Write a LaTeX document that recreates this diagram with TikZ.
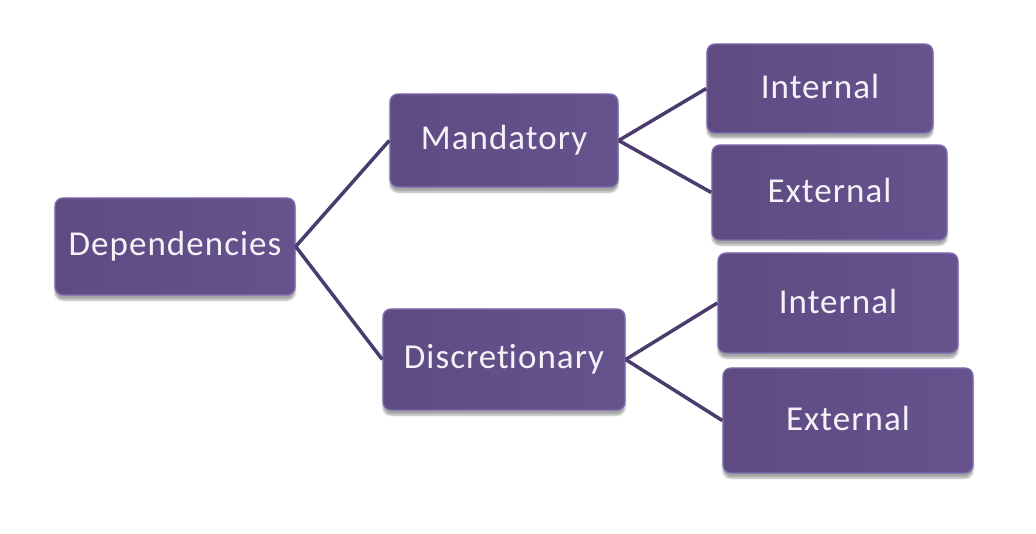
\documentclass[tikz,border=0pt]{standalone}
\usepackage{fontspec}
\setmainfont{Carlito}[Ligatures={NoCommon,NoDiscretionary,NoContextual}]
\usetikzlibrary{shadows.blur}
\definecolor{boxfill}{HTML}{5E4B82}
\definecolor{boxfillb}{HTML}{66538E}
\definecolor{boxedge}{HTML}{7C6BAE}
\definecolor{linkc}{HTML}{4A3C6C}
\definecolor{txt}{HTML}{F4F2F8}
\tikzset{
  pbox/.style={rectangle, rounded corners=8pt, left color=boxfill, right color=boxfillb,
    draw=boxedge, line width=1.4pt, text=txt,
    font=\fontsize{35}{38}\selectfont, inner sep=0pt,
    blur shadow={shadow xshift=0pt, shadow yshift=-5pt, shadow opacity=35, shadow blur steps=6}},
  link/.style={draw=linkc, line width=3.5pt}
}
\newcommand{\up}[1]{\raisebox{4pt}{\addfontfeatures{LetterSpace=3}#1}}
\begin{document}
\begin{tikzpicture}[x=1pt,y=-1pt]
\useasboundingbox (0,0) rectangle (1036,534);
\node[pbox, minimum width=240pt, minimum height=97pt] (dep) at (175,246.5) {\up{Dependencies}};
\node[pbox, minimum width=228pt, minimum height=93pt] (man) at (504,140.5) {\up{Mandatory}};
\node[pbox, minimum width=242pt, minimum height=101pt] (dis) at (504,359.5) {\up{Discret\kern0pt ionary}};
\node[pbox, minimum width=226pt, minimum height=89pt] (int1) at (820,88.5) {\up{Internal}};
\node[pbox, minimum width=235pt, minimum height=95pt] (ext1) at (829.5,192.5) {\up{External}};
\node[pbox, minimum width=240pt, minimum height=100pt] (int2) at (838,303) {\up{Internal}};
\node[pbox, minimum width=250pt, minimum height=105pt] (ext2) at (848,420.5) {\up{External}};
\draw[link] (dep.east) -- (man.west);
\draw[link] (dep.east) -- (dis.west);
\draw[link] (man.east) -- (int1.west);
\draw[link] (man.east) -- (ext1.west);
\draw[link] (dis.east) -- (int2.west);
\draw[link] (dis.east) -- (ext2.west);
\end{tikzpicture}
\end{document}
